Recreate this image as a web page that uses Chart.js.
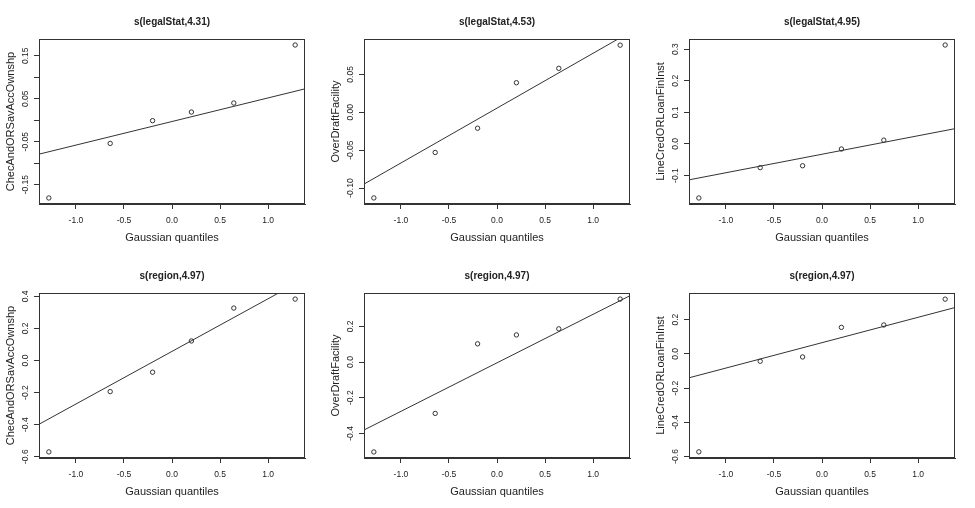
<!DOCTYPE html>
<html>
<head>
<meta charset="utf-8">
<script src="https://cdn.jsdelivr.net/npm/chart.js@4.4.1/dist/chart.umd.min.js"></script>
<style>
  body { margin: 0; background: #fff; }
  #grid { width: 975px; height: 508px; display: grid; grid-template-columns: 325px 325px 325px; grid-template-rows: 254px 254px; }
  canvas { display: block; }
</style>
</head>
<body>
<div id="grid">
  <canvas id="p0" width="325" height="254"></canvas>
  <canvas id="p1" width="325" height="254"></canvas>
  <canvas id="p2" width="325" height="254"></canvas>
  <canvas id="p3" width="325" height="254"></canvas>
  <canvas id="p4" width="325" height="254"></canvas>
  <canvas id="p5" width="325" height="254"></canvas>
</div>
<script>
// Gaussian quantiles (x of every point, 6 observations)
const quantiles = [-1.2816, -0.6433, -0.2019, 0.2019, 0.6433, 1.2816];
const xTicks = [-1, -0.5, 0, 0.5, 1];
const xRange = [-1.3841, 1.3841];

// panel titles and y titles
const panelTitles = ['s(legalStat,4.31)', 's(legalStat,4.53)', 's(legalStat,4.95)',
                     's(region,4.97)', 's(region,4.97)', 's(region,4.97)'];
const yTitles = ['ChecAndORSavAccOwnshp', 'OverDraftFacility', 'LineCredORLoanFinInst',
                 'ChecAndORSavAccOwnshp', 'OverDraftFacility', 'LineCredORLoanFinInst'];

// sorted residual values
const legalChec = [-0.181, -0.054, -0.001, 0.019, 0.040, 0.175];
const legalOver = [-0.113, -0.053, -0.021, 0.039, 0.058, 0.0886];
const legalLine = [-0.171, -0.075, -0.069, -0.016, 0.012, 0.313];
const regionChec = [-0.570, -0.194, -0.073, 0.122, 0.327, 0.383];
const regionOver = [-0.504, -0.288, 0.102, 0.152, 0.186, 0.353];
const regionLine = [-0.573, -0.043, -0.018, 0.155, 0.169, 0.320];

// reference line, value at the left and right edge of the x range
const legalCheclLine = [-0.079, 0.073];
const legalOverLine = [-0.0947, 0.1057];
const legalLineLine = [-0.1136, 0.0484];
const regionChecLine = [-0.3975, 0.5113];
const regionOverLine = [-0.381, 0.372];
const regionLineLine = [-0.140, 0.271];

// y ranges
const yRanges = [[-0.195, 0.189], [-0.121, 0.0967], [-0.190, 0.332],
                 [-0.608, 0.421], [-0.538, 0.387], [-0.609, 0.356]];

// y ticks, and the labels R kept ('' = tick without label)
const yTicks = [
  [-0.15, -0.10, -0.05, 0, 0.05, 0.10, 0.15],
  [-0.10, -0.05, 0, 0.05],
  [-0.1, 0, 0.1, 0.2, 0.3],
  [-0.6, -0.4, -0.2, 0, 0.2, 0.4],
  [-0.4, -0.2, 0, 0.2],
  [-0.6, -0.4, -0.2, 0, 0.2]
];
const yTickLabels = [
  ['-0.15', '', '-0.05', '', '0.05', '', '0.15'],
  ['-0.10', '-0.05', '0.00', '0.05'],
  ['-0.1', '0.0', '0.1', '0.2', '0.3'],
  ['-0.6', '-0.4', '-0.2', '0.0', '0.2', '0.4'],
  ['-0.4', '-0.2', '0.0', '0.2'],
  ['-0.6', '-0.4', '-0.2', '0.0', '0.2']
];

const seriesList = [legalChec, legalOver, legalLine, regionChec, regionOver, regionLine];
const lineList = [legalCheclLine, legalOverLine, legalLineLine, regionChecLine, regionOverLine, regionLineLine];

const FONT = "'Liberation Sans', Arial, sans-serif";
const INK = '#222';

// box round the plot + rotated y tick labels like R
const rFrame = {
  id: 'rFrame',
  afterDraw(chart, args, opts) {
    const { ctx, chartArea: a } = chart;
    const y = chart.scales.y;
    ctx.save();
    ctx.strokeStyle = '#333';
    ctx.lineWidth = 1;
    ctx.strokeRect(a.left + 0.5, a.top + 0.5, a.right - a.left - 1, a.bottom - a.top - 1);
    ctx.fillStyle = INK;
    ctx.font = '8.5px ' + FONT;
    ctx.textAlign = 'center';
    ctx.textBaseline = 'middle';
    y.ticks.forEach((t, i) => {
      const lbl = opts.labels[i];
      if (!lbl) return;
      ctx.save();
      ctx.translate(26, y.getPixelForValue(t.value));
      ctx.rotate(-Math.PI / 2);
      ctx.fillText(lbl, 0, 0);
      ctx.restore();
    });
    ctx.restore();
  }
};

seriesList.forEach((vals, i) => {
  const ctx = document.getElementById('p' + i).getContext('2d');
  new Chart(ctx, {
    type: 'scatter',
    data: {
      datasets: [
        {
          data: vals.map((v, k) => ({ x: quantiles[k], y: v })),
          pointRadius: 2.2,
          pointBorderWidth: 1,
          pointBorderColor: '#333',
          pointBackgroundColor: 'rgba(0,0,0,0)',
          showLine: false
        },
        {
          data: [{ x: xRange[0], y: lineList[i][0] }, { x: xRange[1], y: lineList[i][1] }],
          showLine: true,
          borderColor: '#333',
          borderWidth: 1,
          pointRadius: 0,
          clip: 0
        }
      ]
    },
    options: {
      responsive: false,
      animation: false,
      layout: { padding: { left: 0, right: 20, top: 0, bottom: 0 } },
      plugins: {
        legend: { display: false },
        tooltip: { enabled: false },
        title: {
          display: true,
          text: panelTitles[i],
          fullSize: false,
          color: INK,
          font: { family: FONT, size: 10, weight: 'bold' },
          padding: { top: 16, bottom: 11 }
        },
        rFrame: { labels: yTickLabels[i] }
      },
      scales: {
        x: {
          type: 'linear',
          min: xRange[0],
          max: xRange[1],
          afterBuildTicks: s => { s.ticks = xTicks.map(v => ({ value: v })); },
          afterFit: s => { s.height = 50; },
          grid: { drawOnChartArea: false, drawTicks: true, tickLength: 5, color: '#333' },
          border: { display: true, color: '#333' },
          ticks: {
            color: INK,
            font: { family: FONT, size: 8.5 },
            padding: 7,
            maxRotation: 0,
            autoSkip: false,
            callback: v => v.toFixed(1)
          },
          title: {
            display: true,
            text: 'Gaussian quantiles',
            color: INK,
            font: { family: FONT, size: 11 },
            padding: { top: 0, bottom: 9.4 }
          }
        },
        y: {
          type: 'linear',
          min: yRanges[i][0],
          max: yRanges[i][1],
          afterBuildTicks: s => { s.ticks = yTicks[i].map(v => ({ value: v })); },
          afterFit: s => { s.width = 39; },
          grid: { drawOnChartArea: false, drawTicks: true, tickLength: 5, color: '#333' },
          border: { display: true, color: '#333' },
          ticks: { display: false, autoSkip: false },
          title: {
            display: true,
            text: yTitles[i],
            color: INK,
            font: { family: FONT, size: 11 },
            padding: { top: 4, bottom: 0 }
          }
        }
      }
    },
    plugins: [rFrame]
  });
});
</script>
</body>
</html>
